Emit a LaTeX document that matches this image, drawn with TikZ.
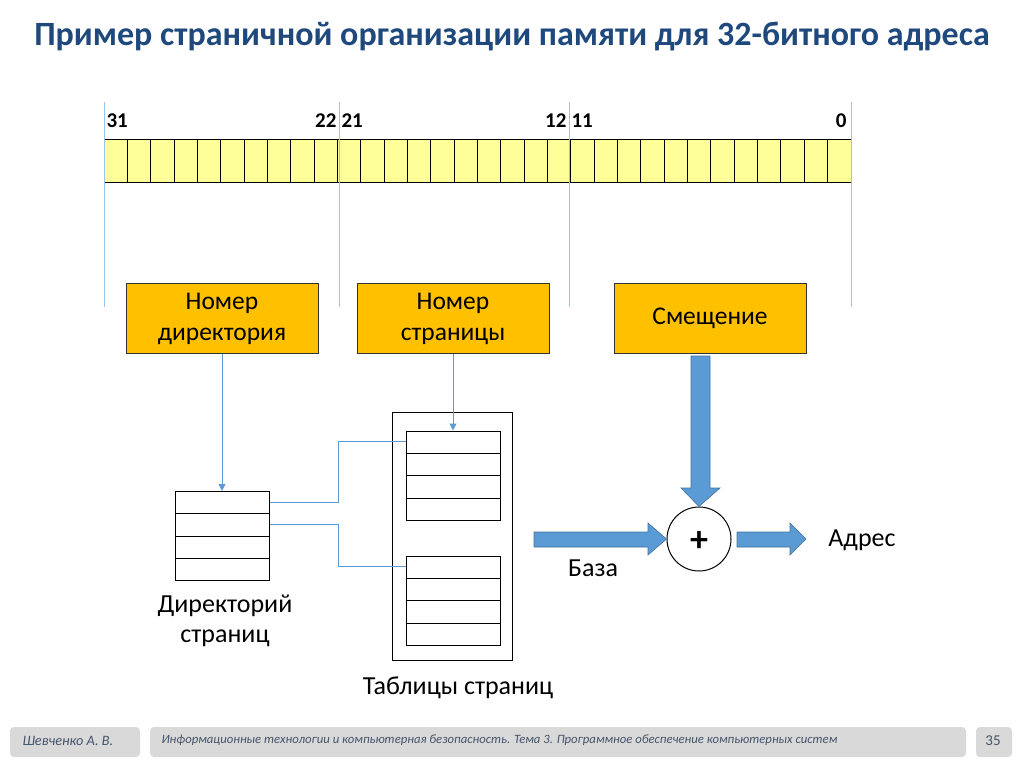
\documentclass[tikz,border=0pt]{standalone}
\usepackage{fontspec}
\setmainfont{Carlito}
\usetikzlibrary{calc,arrows.meta}
\definecolor{regfill}{RGB}{255,255,153}
\definecolor{boxfill}{RGB}{255,192,0}
\definecolor{arrowblue}{RGB}{91,155,213}
\definecolor{arrowedge}{RGB}{65,113,156}
\definecolor{titleblue}{RGB}{31,73,125}
\definecolor{guide}{RGB}{157,195,230}
\definecolor{footgray}{RGB}{217,217,217}
\definecolor{foottext}{RGB}{68,84,106}
\tikzset{
  field/.style={draw=black!80, fill=boxfill, line width=1pt, minimum width=192pt, minimum height=70pt, align=center, font=\fontsize{25.5}{31}\selectfont},
  tablebox/.style={draw, line width=1pt, minimum width=94pt, minimum height=89pt},
  link/.style={draw=arrowblue, line width=1pt},
  bigarrow/.style={fill=arrowblue, draw=arrowedge, line width=0.6pt},
  bitnum/.style={font=\fontsize{21}{24}\selectfont\bfseries},
  label/.style={font=\fontsize{26}{30}\selectfont, align=center},
  foot/.style={fill=footgray, rounded corners=4pt},
}
\begin{document}
\begin{tikzpicture}[x=1pt,y=-1pt]
\useasboundingbox (0,0) rectangle (1024,767);
% title
\node[font=\fontsize{34}{40}\selectfont\bfseries, text=titleblue] (title) at (512,37) {Пример страничной организации памяти для 32-битного адреса};
% address register
\fill[regfill] (104,140) rectangle (851,183);
\foreach \i in {0,...,31}
  \draw[line width=1pt] ({104+\i*23.34375},140) rectangle ({104+(\i+1)*23.34375},183);
\foreach \x in {104,339,569,851}
  \draw[guide, line width=0.8pt] (\x,102) -- (\x,307);
\node[bitnum, anchor=west] (b31) at (103,121) {31};
\node[bitnum, anchor=east] (b22) at (340,121) {22};
\node[bitnum, anchor=west] (b21) at (338,121) {21};
\node[bitnum, anchor=east] (b12) at (570,121) {12};
\node[bitnum, anchor=west] (b11) at (568,121) {11};
\node[bitnum, anchor=east] (b0) at (850,121) {0};
% fields
\node[field, text depth=2pt] (dirbox) at (222,318) {Номер\\директория};
\node[field, text depth=2pt] (pagebox) at (453,318) {Номер\\страницы};
\node[field] (offbox) at (710,318) {Смещение};
% directory and page tables
\node[tablebox] (dir) at (222,536) {};
\node[draw, line width=1pt, minimum width=120pt, minimum height=248pt] (tables) at (452,536) {};
\node[tablebox] (tbl1) at (453,475.5) {};
\node[tablebox] (tbl2) at (453,600.5) {};
\foreach \t in {dir,tbl1,tbl2}
  \foreach \k in {1,2,3}
    \draw[line width=1pt] ($(\t.north west)!\k/4!(\t.south west)$) -- ($(\t.north east)!\k/4!(\t.south east)$);
\node[label] (dirlabel) at (225,621) {Директорий\\страниц};
\node[label] (tbllabel) at (458,688) {Таблицы страниц};
% pointers
\draw[link, -{Triangle[length=7pt,width=7pt]}] (dirbox.south) -- (dir.north);
\draw[link, -{Triangle[length=7pt,width=7pt]}] (pagebox.south) -- (tbl1.north);
\draw[link] ([yshift=-11]dir.north east) -- ++(69,0) |- ([yshift=-11]tbl1.north west);
\draw[link] ([yshift=-33]dir.north east) -- ++(69,0) |- ([yshift=-11]tbl2.north west);
% adder
\node[draw, circle, line width=1pt, minimum size=64pt] (sum) at (699,539) {};
\node[font=\fontsize{36}{36}\selectfont\bfseries] (plus) at (699,542) {+};
\draw[bigarrow] (691,356) -- (710,356) -- (710,488) -- (720,488) -- (sum.north) -- (681,488) -- (691,488) -- cycle;
\draw[bigarrow] (534,532) -- (648,532) -- (648,523) -- (sum.west) -- (648,555) -- (648,547) -- (534,547) -- cycle;
\draw[bigarrow] (737,532) -- (790,532) -- (790,523) -- (806,539) -- (790,555) -- (790,547) -- (737,547) -- cycle;
\node[label] (base) at (593,568) {База};
\node[label] (addr) at (862,540) {Адрес};
% footer
\fill[foot] (10,727) rectangle (140,757);
\fill[foot] (150,727) rectangle (966,757);
\fill[foot] (976,727) rectangle (1012,757);
\node[anchor=west, text=foottext, font=\fontsize{14.3}{16}\selectfont\itshape] (author) at (19,741) {Шевченко А. В.};
\node[anchor=west, text=foottext, font=\fontsize{12.7}{15}\selectfont\itshape] (course) at (158,740) {Информационные технологии и компьютерная безопасность. Тема 3. Программное обеспечение компьютерных систем};
\node[text=foottext, font=\fontsize{15}{17}\selectfont] (page) at (993,741) {35};
\end{tikzpicture}
\end{document}
